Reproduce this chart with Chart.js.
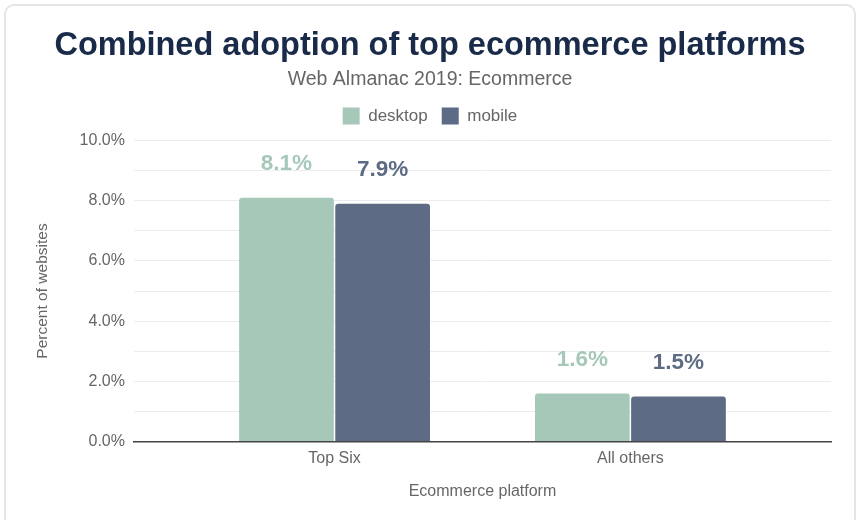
<!DOCTYPE html>
<html>
<head>
<meta charset="utf-8">
<script src="https://cdn.jsdelivr.net/npm/chart.js@4"></script>
<style>
  html, body { margin: 0; padding: 0; background: #fff; }
  #card { position: absolute; left: 4px; top: 4px; width: 852px; height: 530px; border: 2px solid #e6e6e6; border-radius: 10px; box-sizing: border-box; }
  #wrap { position: absolute; left: 0; top: 0; width: 859px; height: 520px; }
</style>
</head>
<body>
<div id="card"></div>
<div id="wrap"><canvas id="c" width="859" height="520"></canvas></div>
<script>
const categories = ['Top Six', 'All others'];
const desktopValues = [8.1, 1.6];
const mobileValues = [7.9, 1.5];
const seriesNames = ['desktop', 'mobile'];
const yTickValues = [0, 2, 4, 6, 8, 10];

const DESKTOP = '#a6c8b8';
const MOBILE = '#5d6b85';
const FONT = '"Liberation Sans", Arial, Helvetica, sans-serif';

const valueLabels = {
  id: 'valueLabels',
  afterDatasetsDraw(chart) {
    const ctx = chart.ctx;
    ctx.save();
    chart.data.datasets.forEach((ds, di) => {
      const meta = chart.getDatasetMeta(di);
      meta.data.forEach((bar, i) => {
        ctx.fillStyle = ds.backgroundColor;
        ctx.font = 'bold 22.5px ' + FONT;
        ctx.textAlign = 'center';
        ctx.textBaseline = 'middle';
        ctx.fillText(ds.data[i].toFixed(1) + '%', bar.x, bar.y - 34);
      });
    });
    ctx.restore();
  }
};

const legendGap = {
  id: 'legendGap',
  beforeLayout(chart) {
    const lg = chart.legend;
    if (lg && !lg._gapPatched) {
      const orig = lg.fit;
      lg.fit = function () { orig.call(this); this.height += 6; };
      lg._gapPatched = true;
    }
  }
};

new Chart(document.getElementById('c'), {
  type: 'bar',
  data: {
    labels: categories,
    datasets: [
      { label: seriesNames[0], data: desktopValues, backgroundColor: DESKTOP, borderRadius: {topLeft: 3, topRight: 3}, borderSkipped: 'bottom' },
      { label: seriesNames[1], data: mobileValues, backgroundColor: MOBILE, borderRadius: {topLeft: 3, topRight: 3}, borderSkipped: 'bottom' }
    ]
  },
  options: {
    responsive: false,
    animation: false,
    devicePixelRatio: 1,
    categoryPercentage: 0.65,
    barPercentage: 0.985,
    layout: { padding: { left: 29, right: 28, top: 21, bottom: 15 } },
    plugins: {
      title: {
        display: true,
        text: 'Combined adoption of top ecommerce platforms',
        color: '#1a2b49',
        font: { family: FONT, size: 32.5, weight: 'bold' },
        padding: { top: 6, bottom: 2 }
      },
      subtitle: {
        display: true,
        text: 'Web Almanac 2019: Ecommerce',
        color: '#666666',
        font: { family: FONT, size: 19.5 },
        padding: { bottom: 2 }
      },
      legend: {
        display: true,
        labels: {
          color: '#666666',
          font: { family: FONT, size: 17 },
          boxWidth: 17, boxHeight: 17, padding: 14
        }
      },
      tooltip: { enabled: false }
    },
    scales: {
      x: {
        afterUpdate(scale) {
          const extra = 0.178;
          scale._startValue = -0.5 - extra;
          scale._valueRange = categories.length + 2 * extra;
        },
        grid: { display: false, drawTicks: false },
        border: { display: true, color: '#444444', width: 1.5 },
        ticks: { color: '#666666', font: { family: FONT, size: 16 }, padding: 7 },
        title: { display: true, text: 'Ecommerce platform', color: '#666666', font: { family: FONT, size: 16 }, padding: { top: 7 } }
      },
      y: {
        min: 0, max: 10,
        grid: { color: '#ededed', drawTicks: false, lineWidth: 1 },
        border: { display: false },
        ticks: {
          stepSize: 0.5,
          color: '#666666',
          font: { family: FONT, size: 16 },
          padding: 9,
          callback: (v) => yTickValues.includes(v) ? v.toFixed(1) + '%' : ''
        },
        title: { display: true, text: 'Percent of websites', color: '#666666', font: { family: FONT, size: 15.5 }, padding: { bottom: 19 } }
      }
    }
  },
  plugins: [valueLabels, legendGap]
});
</script>
</body>
</html>
